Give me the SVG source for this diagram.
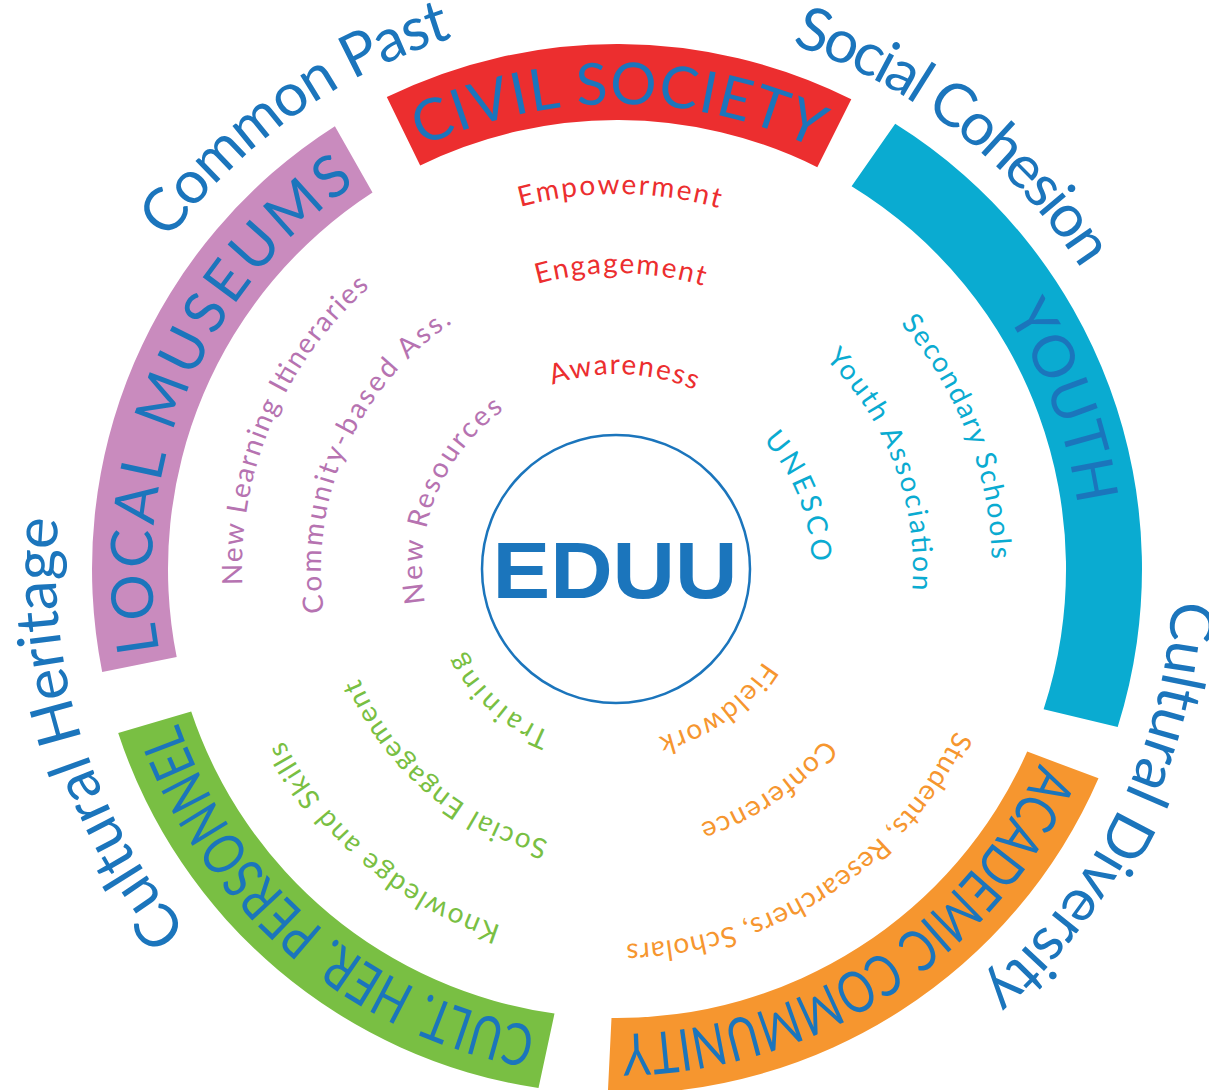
<svg xmlns="http://www.w3.org/2000/svg" xmlns:xlink="http://www.w3.org/1999/xlink" width="1209" height="1090" viewBox="0 0 1209 1090">
<style>
text{font-family:Lato,"Open Sans","Liberation Sans",sans-serif}
.outer{font-size:60px;fill:#1B75BC}
.band{font-size:58px;fill:#1B75BC}
.inner{font-size:28px}
.red{fill:#EC2E2F}.cyan{fill:#0AABD1}.pink{fill:#B673B1}.green{fill:#79BF43}.orange{fill:#F6962F}
.bred{fill:#EC2E2F}.bcyan{fill:#0AABD1}.bpink{fill:#C98BBE}.bgreen{fill:#79BF43}.borange{fill:#F6962F}
</style>
<defs>
<path id="c561" d="M -558.86 -48.90 A 561 561 0 0 1 558.86 -48.90"/>
<path id="c556" d="M -553.88 -48.46 A 556 556 0 0 1 553.88 -48.46"/>
<path id="c553" d="M -550.89 -48.20 A 553 553 0 0 1 550.89 -48.20"/>
<path id="c465" d="M -463.23 -40.53 A 465 465 0 0 1 463.23 -40.53"/>
<path id="c375" d="M -373.57 -32.69 A 375 375 0 0 1 373.57 -32.69"/>
<path id="c296" d="M -294.87 -25.80 A 296 296 0 0 1 294.87 -25.80"/>
<path id="c280" d="M -278.93 -24.40 A 280 280 0 0 1 278.93 -24.40"/>
<path id="c268" d="M -266.98 -23.36 A 268 268 0 0 1 266.98 -23.36"/>
<path id="c195" d="M -194.26 -17.00 A 195 195 0 0 1 194.26 -17.00"/>
<path id="c176" d="M -175.33 -15.34 A 176 176 0 0 1 175.33 -15.34"/>
<path id="c173" d="M -172.34 -15.08 A 173 173 0 0 1 172.34 -15.08"/>
</defs>
<rect width="1209" height="1090" fill="#FFFFFF"/>

<g id="civil-society">
<path class="bred" d="M 386.8 97.1 A 525 525 0 0 1 851.3 99.2 L 817.3 167.2 A 449 449 0 0 0 420.2 165.4 Z"/>
<text class="band" transform="translate(617 569) rotate(0.2)"><textPath href="#c465" startOffset="50%" text-anchor="middle" textLength="406">CIVIL SOCIETY</textPath></text>
<text class="inner red" transform="translate(617 569) rotate(0.4)"><textPath href="#c375" startOffset="50%" text-anchor="middle" textLength="201">Empowerment</textPath></text>
<text class="inner red" transform="translate(617 569) rotate(0.65)"><textPath href="#c296" startOffset="50%" text-anchor="middle" textLength="168">Engagement</textPath></text>
<text class="inner red" transform="translate(617 569) rotate(2.05)"><textPath href="#c195" startOffset="50%" text-anchor="middle" textLength="146">Awareness</textPath></text>
</g>

<g id="youth">
<path class="bcyan" d="M 895.2 123.8 A 525 525 0 0 1 1117.7 726.9 L 1043.6 709.2 A 449 449 0 0 0 851.6 186.2 Z"/>
<text class="band" transform="translate(617 569) rotate(69.5)"><textPath href="#c465" startOffset="50%" text-anchor="middle" textLength="205">YOUTH</textPath></text>
<text class="inner cyan" transform="translate(617 569) rotate(68.2)"><textPath href="#c195" startOffset="50%" text-anchor="middle" textLength="134">UNESCO</textPath></text>
<text class="inner cyan" transform="translate(617 569) rotate(69.4)"><textPath href="#c296" startOffset="50%" text-anchor="middle" textLength="255">Youth Association</textPath></text>
<text class="inner cyan" transform="translate(617 569) rotate(68.8)"><textPath href="#c375" startOffset="50%" text-anchor="middle" textLength="258">Secondary Schools</textPath></text>
</g>

<g id="academic-community">
<path class="borange" d="M 1098.5 778.3 A 525 525 0 0 1 607.8 1093.9 L 611.5 1018 A 449 449 0 0 0 1027.2 751.6 Z"/>
<text class="band" transform="translate(617 569) rotate(147.05)"><textPath href="#c465" startOffset="50%" text-anchor="middle" textLength="525" lengthAdjust="spacingAndGlyphs">ACADEMIC COMMUNITY</textPath></text>
<text class="inner orange" transform="translate(617 569) rotate(144.2)"><textPath href="#c173" startOffset="50%" text-anchor="middle" textLength="133">Fieldwork</textPath></text>
<text class="inner orange" transform="translate(617 569) rotate(145.65)"><textPath href="#c268" startOffset="50%" text-anchor="middle" textLength="153">Conference</textPath></text>
<text class="inner orange" transform="translate(617 569) rotate(147.05)"><textPath href="#c375" startOffset="50%" text-anchor="middle" textLength="413">Students, Researchers, Scholars</textPath></text>
</g>

<g id="cult-her-personnel">
<path class="bgreen" d="M 538.5 1088.1 A 525 525 0 0 1 118.2 733 L 191.2 711.5 A 449 449 0 0 0 554.5 1013.6 Z"/>
<text class="band" transform="translate(617 569) rotate(220.3)"><textPath href="#c465" startOffset="50%" text-anchor="middle" textLength="492" lengthAdjust="spacingAndGlyphs">CULT. HER. PERSONNEL</textPath></text>
<text class="inner green" transform="translate(617 569) rotate(221.9)"><textPath href="#c176" startOffset="50%" text-anchor="middle" textLength="122">Training</textPath></text>
<text class="inner green" transform="translate(617 569) rotate(220.55)"><textPath href="#c280" startOffset="50%" text-anchor="middle" textLength="258">Social Engagement</textPath></text>
<text class="inner green" transform="translate(617 569) rotate(220.4)"><textPath href="#c375" startOffset="50%" text-anchor="middle" textLength="293">Knowledge and Skills</textPath></text>
</g>

<g id="local-museums">
<path class="bpink" d="M 102.2 671.9 A 525 525 0 0 1 334.9 126.2 L 372.5 192.4 A 449 449 0 0 0 176.7 657 Z"/>
<text class="band" transform="translate(617 569) rotate(-67.15)"><textPath href="#c465" startOffset="50%" text-anchor="middle" textLength="536">LOCAL MUSEUMS</textPath></text>
<text class="inner pink" transform="translate(617 569) rotate(-67.75)"><textPath href="#c195" startOffset="50%" text-anchor="middle" textLength="220">New Resources</textPath></text>
<text class="inner pink" transform="translate(617 569) rotate(-66.1)"><textPath href="#c296" startOffset="50%" text-anchor="middle" textLength="334">Community-based Ass.</textPath></text>
<text class="inner pink" transform="translate(617 569) rotate(-66.85)"><textPath href="#c375" startOffset="50%" text-anchor="middle" textLength="335">New Learning Itineraries</textPath></text>
</g>

<g id="outer-labels">
<text class="outer" transform="translate(617 569) rotate(-35.5)"><textPath href="#c556" startOffset="50%" text-anchor="middle" textLength="355">Common Past</textPath></text>
<text class="outer" transform="translate(617 569) rotate(37.8)"><textPath href="#c553" startOffset="50%" text-anchor="middle" textLength="374">Social Cohesion</textPath></text>
<text class="outer" transform="translate(617 569) rotate(116.1)"><textPath href="#c556" startOffset="50%" text-anchor="middle" textLength="444">Cultural Diversity</textPath></text>
<text class="outer" transform="translate(617 569) rotate(-107.45)"><textPath href="#c561" startOffset="50%" text-anchor="middle" textLength="443">Cultural Heritage</textPath></text>
</g>

<g id="eduu">
<circle cx="616" cy="569" r="134" fill="#FFFFFF" stroke="#1B75BC" stroke-width="2.5"/>
<text x="615" y="598" text-anchor="middle" textLength="245" lengthAdjust="spacingAndGlyphs" style="font-family:'Liberation Sans',Arial,sans-serif;font-weight:bold;font-size:80px;fill:#1B75BC">EDUU</text>
</g>
</svg>
